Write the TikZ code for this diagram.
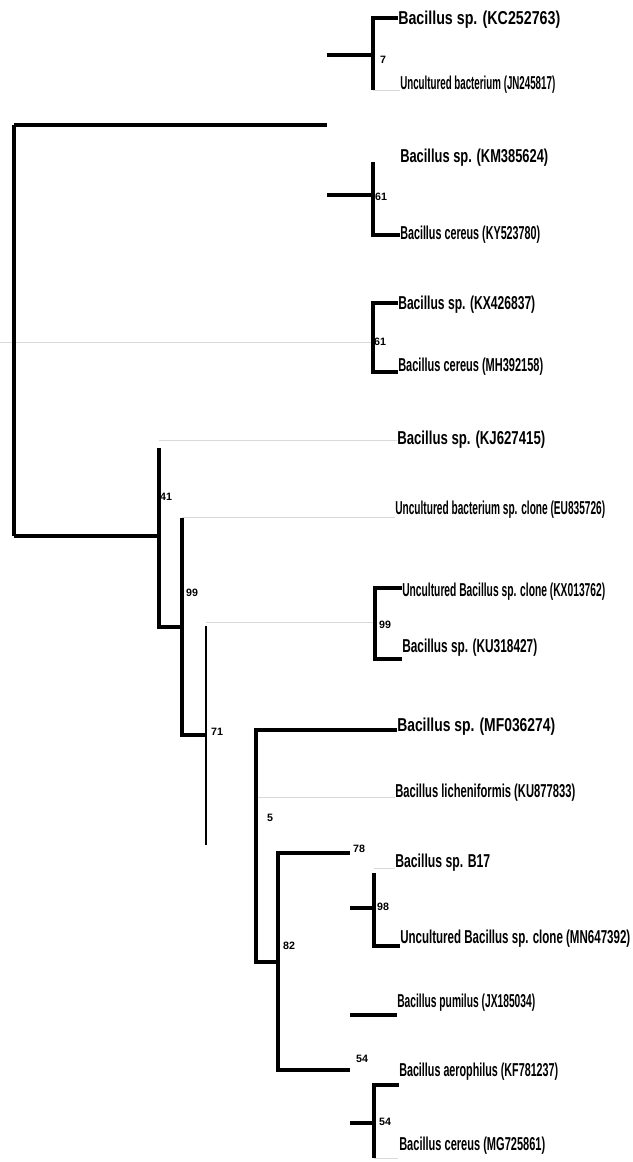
\documentclass[tikz,border=0pt]{standalone}
\usepackage{fontspec}
\setmainfont{Liberation Sans}
% taxon label squeezed to a given width (in px units of the picture)
\newcommand\taxlbl[2]{\resizebox{\dimexpr #1pt*3/4\relax}{\height}{#2}}
\begin{document}
\begin{tikzpicture}[x=0.75pt,y=-0.75pt,
  branch/.style={line width=3pt},
  thinbranch/.style={line width=1.5pt},
  faint/.style={line width=0.5pt, black!15},
  taxon/.style={anchor=west, inner sep=0pt, font=\fontsize{14}{14}\selectfont\bfseries},
  boot/.style={inner sep=0pt, font=\fontsize{8}{8}\selectfont\bfseries}]
\useasboundingbox (0,0) rectangle (632,1162);

% ---------- leaf labels ----------
\node[taxon] (t1)  at (398,20)   {\taxlbl{162}{Bacillus sp. (KC252763)}};
\node[taxon] (t2)  at (400,85)   {\taxlbl{155}{Uncultured bacterium (JN245817)}};
\node[taxon] (t3)  at (400,158)  {\taxlbl{148}{Bacillus sp. (KM385624)}};
\node[taxon] (t4)  at (400,235)  {\taxlbl{140}{Bacillus cereus (KY523780)}};
\node[taxon] (t5)  at (398,305)  {\taxlbl{137}{Bacillus sp. (KX426837)}};
\node[taxon] (t6)  at (398,367)  {\taxlbl{145}{Bacillus cereus (MH392158)}};
\node[taxon] (t7)  at (397,440)  {\taxlbl{148}{Bacillus sp. (KJ627415)}};
\node[taxon] (t8)  at (395,510)  {\taxlbl{210}{Uncultured bacterium sp. clone (EU835726)}};
\node[taxon] (t9)  at (402,592)  {\taxlbl{203}{Uncultured Bacillus sp. clone (KX013762)}};
\node[taxon] (t10) at (402,648)  {\taxlbl{135}{Bacillus sp. (KU318427)}};
\node[taxon] (t11) at (397,727)  {\taxlbl{158}{Bacillus sp. (MF036274)}};
\node[taxon] (t12) at (395,793)  {\taxlbl{180}{Bacillus licheniformis (KU877833)}};
\node[taxon] (t13) at (395,863)  {\taxlbl{95}{Bacillus sp. B17}};
\node[taxon] (t14) at (400,939)  {\taxlbl{230}{Uncultured Bacillus sp. clone (MN647392)}};
\node[taxon] (t15) at (397,1003) {\taxlbl{138}{Bacillus pumilus (JX185034)}};
\node[taxon] (t16) at (399,1072) {\taxlbl{159}{Bacillus aerophilus (KF781237)}};
\node[taxon] (t17) at (399,1146) {\taxlbl{146}{Bacillus cereus (MG725861)}};

% ---------- internal nodes ----------
\coordinate (root) at (14,125);
\coordinate (rootb) at (14,536);
\coordinate (nTop) at (327,125);
\coordinate (nA) at (373,55);
\coordinate (nB) at (373,195);
\coordinate (nC) at (373,342);
\coordinate (n1) at (159,536);
\coordinate (n2) at (182,627);
\coordinate (n3) at (206,735);
\coordinate (nD) at (375,622);
\coordinate (n4) at (256,845);
\coordinate (n5) at (278,962);
\coordinate (n6) at (350,853);
\coordinate (nE) at (374,908);
\coordinate (n7) at (350,1070);
\coordinate (nF) at (374,1123);

% ---------- faint zero-length connections ----------
\draw[faint] (0,342) -- (nC);
\draw[faint] (n1 |- t7.west) -- (t7.west);
\draw[faint] (n2 |- 0,517) -- (t8.west |- 0,517);
\draw[faint] (n3 |- nD) -- (nD);
\draw[faint] (n4 |- 0,797) -- (t12.west |- 0,797);
\draw[faint] (nE |- 0,868) -- (t13.west |- 0,868);
\draw[faint] (373,90) -- (t2.west |- 0,90);
\draw[faint] (374,1158) -- (398,1158);

% ---------- branches ----------
\draw[branch] (root) -- (rootb);
\draw[branch] (root) -- (nTop);
\draw[branch] (rootb) -- (n1);
\draw[branch] (327,55) -- (nA);
\draw[branch] (373,90) -- (373,18) -- (t1.west |- 0,18);
\draw[branch] (327,195) -- (nB);
\draw[branch] (373,162) -- (373,235) -- (t4.west |- 0,235);
\draw[branch] (t5.west |- 0,303) -- (373,303) -- (373,372) -- (t6.west |- 0,372);
\draw[branch] (159,448) -- (159,627) -- (n2);
\draw[branch] (182,518) -- (182,735) -- (n3);
\draw[thinbranch] (206,626) -- (206,845);
\draw[branch] (t9.west |- 0,588) -- (375,588) -- (375,659) -- (t10.west |- 0,659);
\draw[branch] (t11.west |- 0,730) -- (256,730) -- (256,962) -- (n5);
\draw[branch] (n6) -- (278,853) -- (278,1070) -- (n7);
\draw[branch] (350,908) -- (nE);
\draw[branch] (374,873) -- (374,946) -- (t14.west |- 0,946);
\draw[branch] (350,1015) -- (t15.west |- 0,1015);
\draw[branch] (350,1123) -- (nF);
\draw[branch] (374,1158) -- (374,1085) -- (t16.west |- 0,1085);

% ---------- bootstrap values ----------
\node[boot] (b1)  at (383,60)   {7};
\node[boot] (b2)  at (381,197)  {61};
\node[boot] (b3)  at (380,342)  {61};
\node[boot] (b4)  at (166,497)  {41};
\node[boot] (b5)  at (192,593)  {99};
\node[boot] (b6)  at (385,625)  {99};
\node[boot] (b7)  at (217,732)  {71};
\node[boot] (b8)  at (270,818)  {5};
\node[boot] (b9)  at (359,849)  {78};
\node[boot] (b10) at (383,907)  {98};
\node[boot] (b11) at (289,946)  {82};
\node[boot] (b12) at (362,1059) {54};
\node[boot] (b13) at (385,1122) {54};
\end{tikzpicture}
\end{document}
